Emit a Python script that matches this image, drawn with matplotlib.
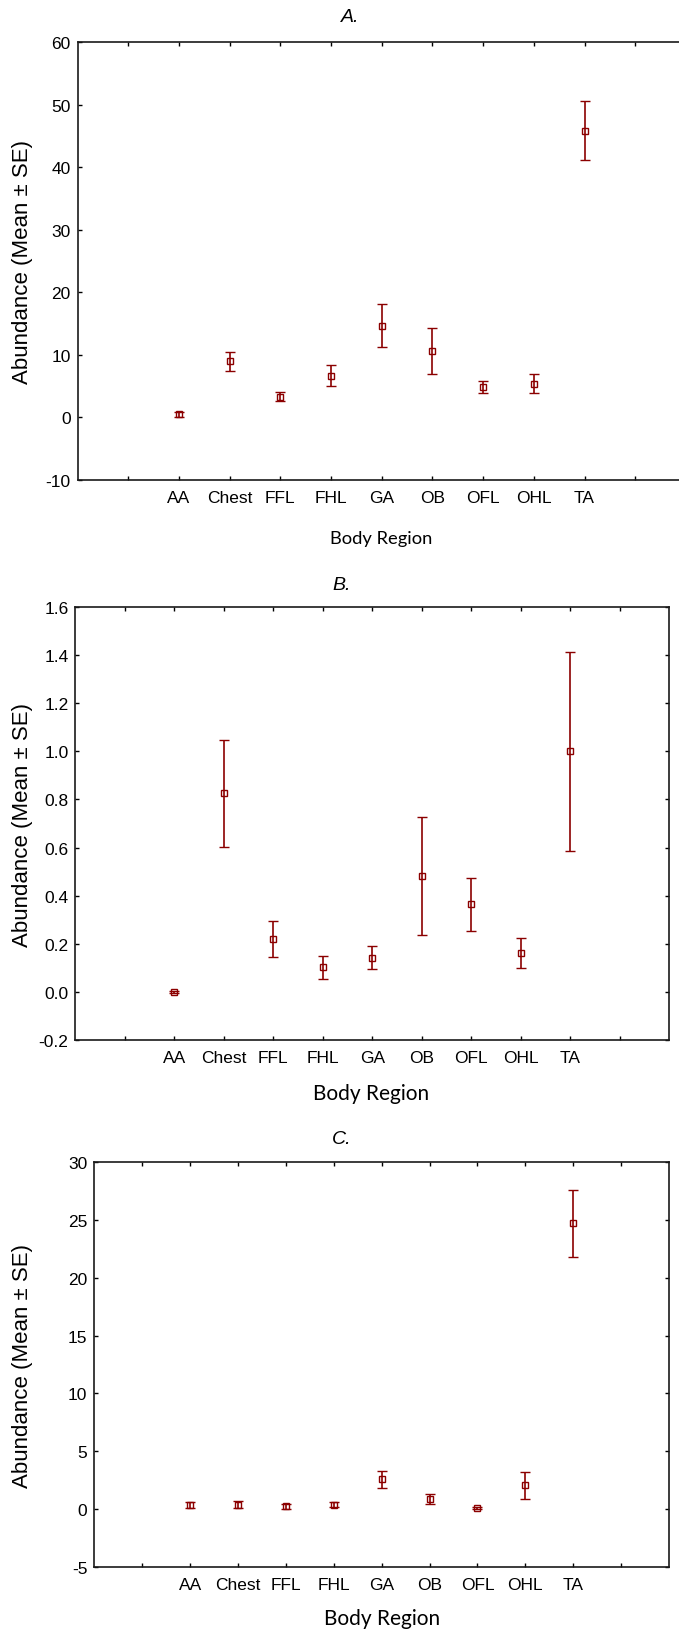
import numpy as np
import matplotlib
matplotlib.use('Agg')
import matplotlib.pyplot as plt

plt.rcParams['font.family'] = ['Liberation Sans', 'DejaVu Sans']
plt.rcParams['axes.unicode_minus'] = False

REGIONS = ['AA', 'Chest', 'FFL', 'FHL', 'GA', 'OB', 'OFL', 'OHL', 'TA']

# panel A
mean_a = [0.5, 9.0, 3.3, 6.7, 14.65, 10.6, 4.9, 5.4, 45.8]
se_a = [0.4, 1.5, 0.7, 1.75, 3.4, 3.65, 1.0, 1.5, 4.7]
# panel B
mean_b = [0.0, 0.825, 0.22, 0.102, 0.142, 0.481, 0.364, 0.161, 1.0]
se_b = [0.005, 0.224, 0.074, 0.049, 0.047, 0.244, 0.11, 0.061, 0.414]
# panel C
mean_c = [0.38, 0.4, 0.24, 0.38, 2.57, 0.88, 0.1, 2.05, 24.7]
se_c = [0.25, 0.3, 0.2, 0.22, 0.75, 0.45, 0.1, 1.2, 2.9]

W, H = 679, 1631
RED = '#8b0000'


def rect(left, right, top, bottom):
    """Axes rect from pixel edges."""
    return [left / W, 1 - bottom / H, (right - left) / W, (bottom - top) / H]


def fig_text(fig, x, y, s, **kw):
    fig.text(x / W, 1 - y / H, s, ha='center', va='center', **kw)


def draw_panel(fig, box, means, ses, ylim, yticks, yfmt):
    ax = fig.add_axes(box)
    x = np.arange(2, 2 + len(REGIONS))
    ax.errorbar(x, means, yerr=ses, fmt='s', ms=5, mfc='none', mec=RED,
                mew=1.0, ecolor=RED, elinewidth=1.2, capsize=3.8,
                capthick=1.2, zorder=3)
    ax.set_xlim(0, 12)
    ax.set_ylim(*ylim)
    ax.set_xticks(np.arange(1, 12))
    ax.set_xticklabels([''] + REGIONS + [''])
    ax.set_yticks(yticks)
    ax.set_yticklabels([yfmt.format(v) for v in yticks])
    ax.tick_params(direction='in', length=3, width=1, top=True, right=True,
                   labelsize=12.5, colors='black')
    ax.tick_params(axis='x', pad=7)
    ax.tick_params(axis='y', pad=5)
    for sp in ax.spines.values():
        sp.set_linewidth(1.2)
        sp.set_color('#1a1a1a')
    return ax


fig = plt.figure(figsize=(W / 100, H / 100), dpi=100)

draw_panel(fig, rect(77.5, 686, 43, 481), mean_a, se_a, (-10, 60),
           np.arange(-10, 61, 10), '{:.0f}')
draw_panel(fig, rect(75.4, 669, 608, 1041), mean_b, se_b, (-0.2, 1.6),
           np.round(np.arange(-0.2, 1.61, 0.2), 1), '{:.1f}')
draw_panel(fig, rect(94.4, 669, 1163, 1568), mean_c, se_c, (-5, 30),
           np.arange(-5, 31, 5), '{:.0f}')

ylab = 'Abundance (Mean \u00b1 SE)'
for cx, cy in [(22.5, 262), (22.5, 825), (22.5, 1366)]:
    fig_text(fig, cx, cy, ylab, rotation=90, fontsize=16)

fig_text(fig, 350, 18, 'A.', fontsize=14, style='italic')
fig_text(fig, 342, 586, 'B.', fontsize=14, style='italic')
fig_text(fig, 342, 1140, 'C.', fontsize=14, style='italic')

fig_text(fig, 381, 539, 'Body Region', fontsize=13.2, family=['Lato', 'DejaVu Sans'])
fig_text(fig, 371, 1094, 'Body Region', fontsize=15, family=['Lato', 'DejaVu Sans'])
fig_text(fig, 382, 1619, 'Body Region', fontsize=15, family=['Lato', 'DejaVu Sans'])

fig.savefig('out.png', dpi=100)
